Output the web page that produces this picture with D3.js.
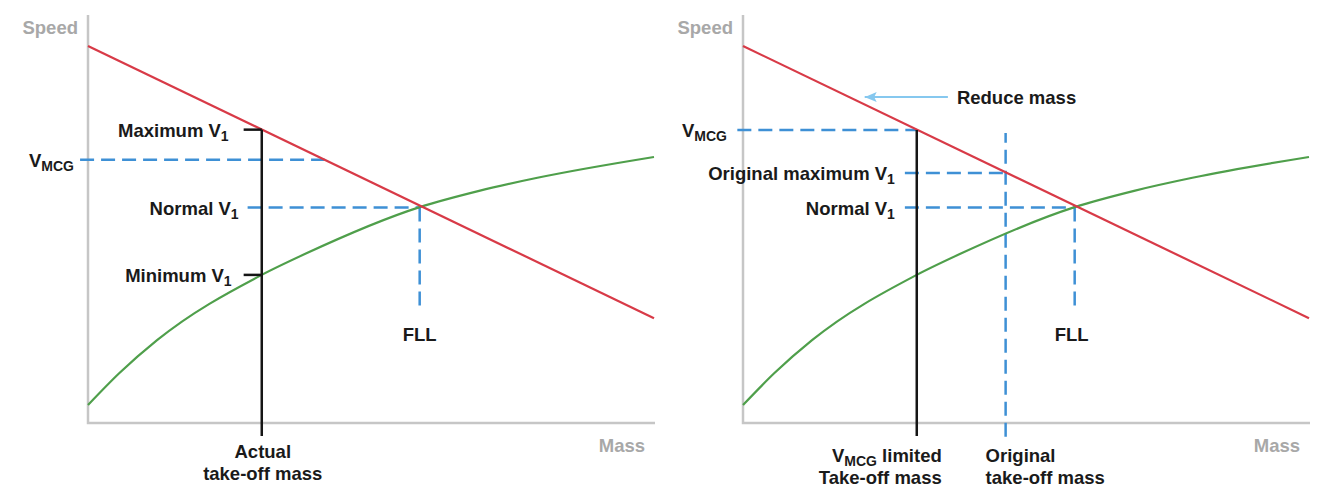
<!DOCTYPE html>
<html>
<head>
<meta charset="utf-8">
<script src="https://cdn.jsdelivr.net/npm/d3@7"></script>
<style>
	body { margin: 0; background: #fff; }
	svg text { font-family: "Liberation Sans", Arial, sans-serif; font-weight: bold; font-size: 18.5px; fill: #1a1a1a; }
	.axis-label { fill: #a8a8a8; }
	.axis-line { stroke: #c6c6c6; stroke-width: 2.5; fill: none; }
	.limit { stroke: #d83a47; stroke-width: 2.2; fill: none; }
	.vmu { stroke: #4f9f4b; stroke-width: 2.2; fill: none; }
	.mass { stroke: #151515; stroke-width: 2.5; fill: none; }
	.guide { stroke: #3e90d5; stroke-width: 2.5; stroke-dasharray: 14,7; fill: none; }
	.arrow { stroke: #86c8ef; stroke-width: 2; fill: none; }
</style>
</head>
<body>
<svg id="chart" width="1334" height="501"></svg>
<script>
	// Both panels share the same two curves (mass %, speed %)
	const maxV1Line = [[0, 92.4], [100, 25.7]];
	const minV1Curve = [[0, 4.4], [5.6, 12.3], [12.2, 20.3], [30.7, 36.3], [38.3, 41.4],
		[58.6, 52.9], [69.1, 56.9], [79.4, 60.1], [100, 65.2]];

	// Left panel readings
	const leftMass = [30.7];          // actual take-off mass
	const leftSpeeds = [71.9, 64.5, 52.8, 36.3]; // max V1, VMCG, normal V1, min V1
	const fllPoint = [58.6, 52.8];    // field length limit (mass, speed)

	// Right panel readings
	const rightMass = [30.7, 46.4];   // VMCG limited mass, original mass
	const rightSpeeds = [71.8, 61.3, 52.8]; // VMCG, original max V1, normal V1
	const reduceArrow = [36.2, 21.5, 79.9]; // from mass, to mass, speed

	const panelLeft = [88, 743];
	const plotTop = 15, plotBottom = 423, plotWidth = 566;

	const svg = d3.select("#chart");
	svg.append("defs").append("marker")
		.attr("id", "head")
		.attr("markerUnits", "userSpaceOnUse")
		.attr("viewBox", "0 0 12 10")
		.attr("refX", 12).attr("refY", 5)
		.attr("markerWidth", 12).attr("markerHeight", 10)
		.attr("orient", "auto")
		.append("path")
		.attr("d", "M0,0 L12,5 L0,10 L2.5,5 Z")
		.attr("fill", "#86c8ef");

	const x = d3.scaleLinear().domain([0, 100]).range([0, plotWidth]);
	const y = d3.scaleLinear().domain([0, 100]).range([plotBottom, plotTop]);
	const line = d3.line().x(d => x(d[0])).y(d => y(d[1]));
	const curve = d3.line().x(d => x(d[0])).y(d => y(d[1])).curve(d3.curveMonotoneX);

	function seg(g, x1, y1, x2, y2, cls) {
		return g.append("line")
			.attr("class", cls)
			.attr("x1", x(x1)).attr("y1", y(y1))
			.attr("x2", x(x2)).attr("y2", y(y2));
	}

	// text with a subscript part, e.g. V + "1"
	function subLabel(g, px, py, main, sub, anchor) {
		let t = g.append("text")
			.attr("x", px).attr("y", py)
			.attr("text-anchor", anchor || "end");
		t.append("tspan").text(main);
		t.append("tspan").attr("dy", 4).style("font-size", "14px").text(sub);
		return t;
	}

	function drawPanel(offset) {
		let g = svg.append("g").attr("transform", "translate(" + offset + ",0)");
		g.append("path").attr("class", "axis-line")
			.attr("d", "M0," + plotTop + "V" + plotBottom + "H" + (plotWidth + 1));
		g.append("text").attr("class", "axis-label")
			.attr("x", -10).attr("y", 34).attr("text-anchor", "end").text("Speed");
		g.append("text").attr("class", "axis-label")
			.attr("x", plotWidth - 9).attr("y", 452).attr("text-anchor", "end").text("Mass");
		return g;
	}

	function drawCurves(g) {
		g.append("path").attr("class", "vmu").attr("d", curve(minV1Curve));
		g.append("path").attr("class", "limit").attr("d", line(maxV1Line));
	}

	// ---- left panel ----
	let left = drawPanel(panelLeft[0]);
	seg(left, -1.4, leftSpeeds[1], 41.8, leftSpeeds[1], "guide");
	seg(left, 28.2, fllPoint[1], fllPoint[0], fllPoint[1], "guide");
	seg(left, fllPoint[0], fllPoint[1], fllPoint[0], 28.4, "guide");
	drawCurves(left);
	seg(left, leftMass[0], leftSpeeds[0], leftMass[0], -3.2, "mass");
	seg(left, 27.5, leftSpeeds[0], leftMass[0], leftSpeeds[0], "mass");
	seg(left, 27.5, leftSpeeds[3], leftMass[0], leftSpeeds[3], "mass");

	subLabel(left, x(27.5) - 15, y(leftSpeeds[0]) + 7, "Maximum V", "1");
	subLabel(left, -14, y(leftSpeeds[1]) + 7, "V", "MCG");
	subLabel(left, x(28.2) - 9, y(leftSpeeds[2]) + 7, "Normal V", "1");
	subLabel(left, x(27.5) - 12, y(leftSpeeds[3]) + 7, "Minimum V", "1");
	left.append("text").attr("x", x(fllPoint[0])).attr("y", 341)
		.attr("text-anchor", "middle").text("FLL");
	left.append("text").attr("x", x(leftMass[0]) + 1).attr("y", 458)
		.attr("text-anchor", "middle").text("Actual");
	left.append("text").attr("x", x(leftMass[0]) + 1).attr("y", 480)
		.attr("text-anchor", "middle").text("take-off mass");

	// ---- right panel ----
	let right = drawPanel(panelLeft[1]);
	seg(right, -1, rightSpeeds[0], rightMass[0], rightSpeeds[0], "guide");
	seg(right, 28.6, rightSpeeds[1], rightMass[1], rightSpeeds[1], "guide");
	seg(right, 28.6, rightSpeeds[2], fllPoint[0], rightSpeeds[2], "guide");
	seg(right, fllPoint[0], rightSpeeds[2], fllPoint[0], 28.4, "guide");
	seg(right, rightMass[1], -3.4, rightMass[1], 71.1, "guide");
	drawCurves(right);
	seg(right, rightMass[0], rightSpeeds[0], rightMass[0], -3.2, "mass");

	seg(right, reduceArrow[0], reduceArrow[2], reduceArrow[1], reduceArrow[2], "arrow")
		.attr("marker-end", "url(#head)");
	right.append("text").attr("x", x(reduceArrow[0]) + 9).attr("y", y(reduceArrow[2]) + 7)
		.text("Reduce mass");

	subLabel(right, -16, y(rightSpeeds[0]) + 7, "V", "MCG");
	subLabel(right, x(28.6) - 10, y(rightSpeeds[1]) + 7, "Original maximum V", "1");
	subLabel(right, x(28.6) - 10, y(rightSpeeds[2]) + 7, "Normal V", "1");
	right.append("text").attr("x", x(fllPoint[0]) - 3).attr("y", 341)
		.attr("text-anchor", "middle").text("FLL");

	subLabel(right, x(rightMass[0]) + 25, 462, "V", "MCG").append("tspan")
		.attr("dy", -4).text(" limited");
	right.append("text").attr("x", x(rightMass[0]) + 25).attr("y", 484)
		.attr("text-anchor", "end").text("Take-off mass");
	right.append("text").attr("x", x(rightMass[1]) - 20).attr("y", 462).text("Original");
	right.append("text").attr("x", x(rightMass[1]) - 20).attr("y", 484).text("take-off mass");
</script>
</body>
</html>
